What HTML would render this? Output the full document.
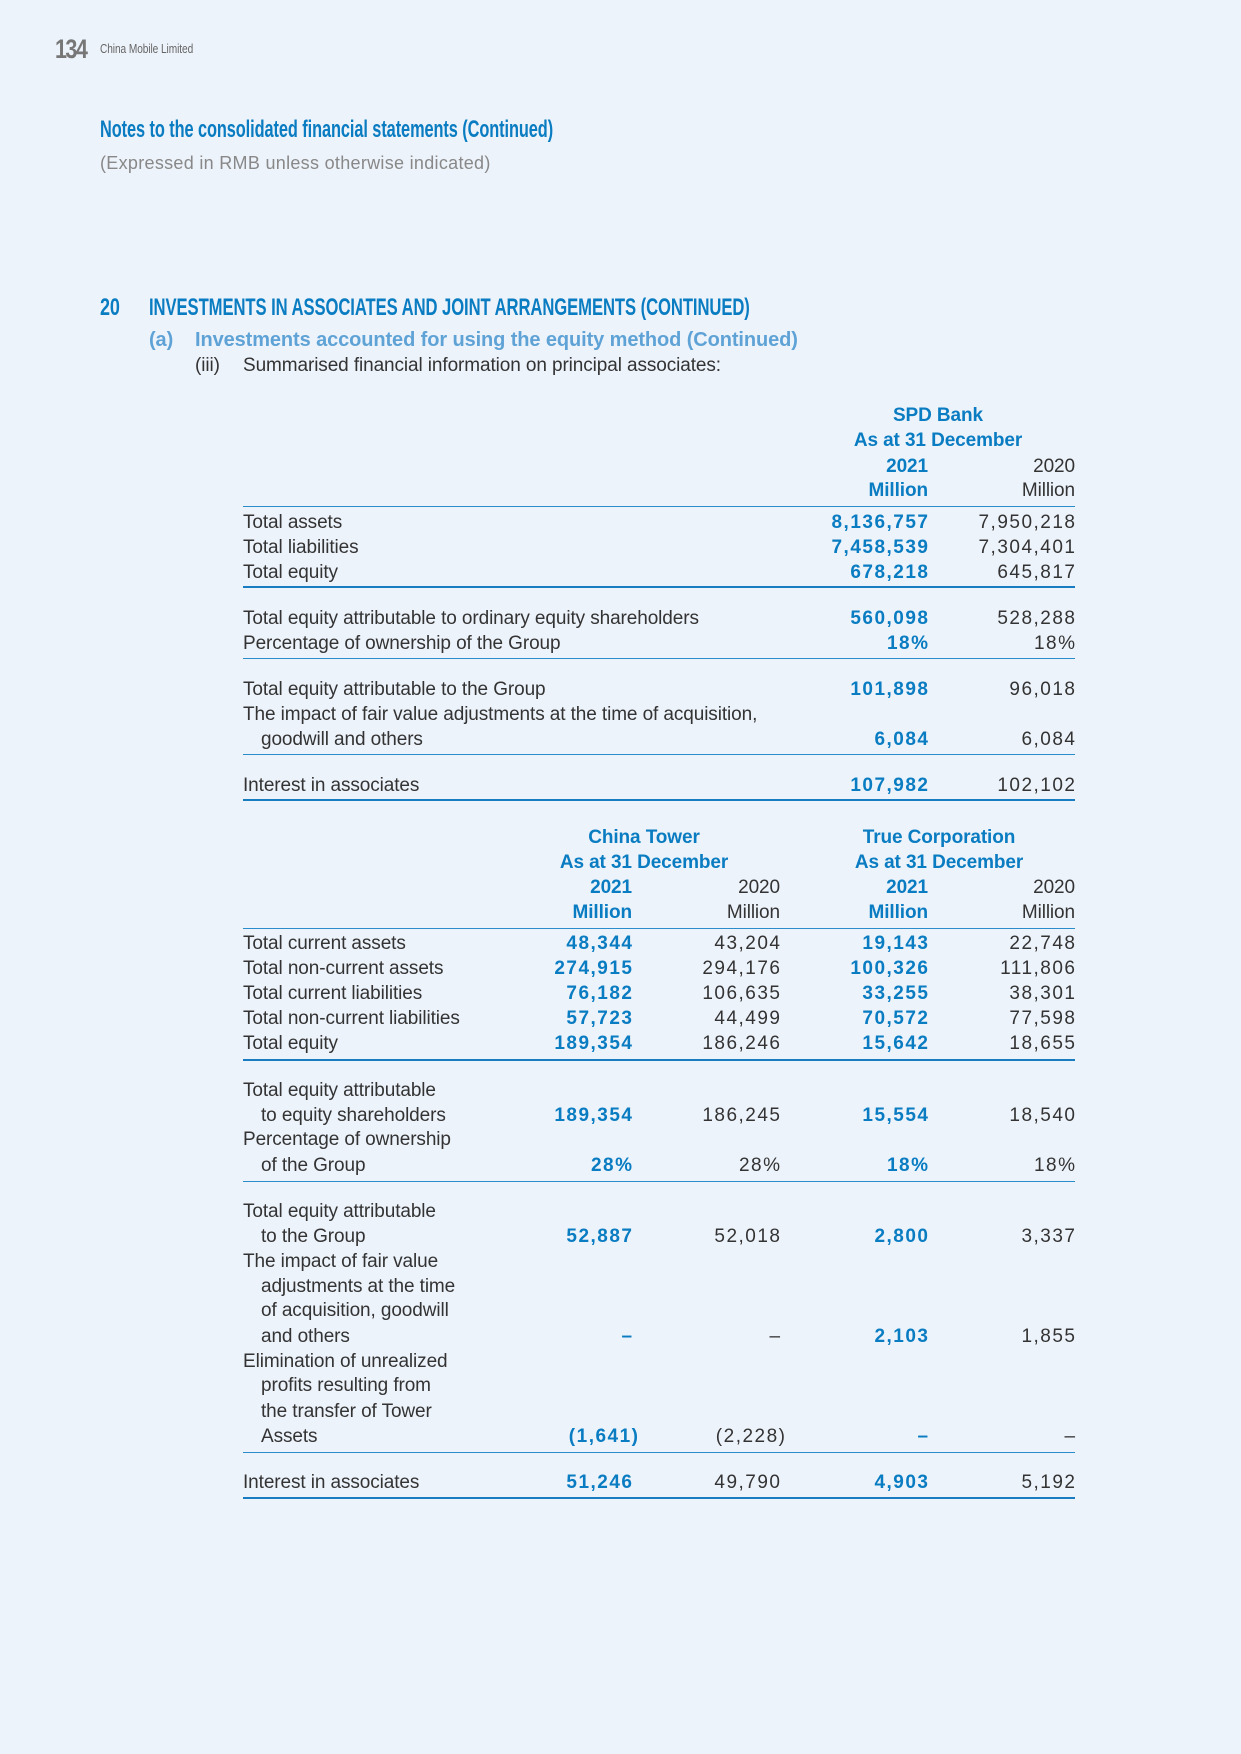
<!DOCTYPE html>
<html><head><meta charset="utf-8"><style>
body{margin:0;background:#edf3fb;}
#p{position:relative;width:1241px;height:1754px;background:#edf3fb;overflow:hidden;font-family:"Liberation Sans",sans-serif;color:#333;}
.t{position:absolute;white-space:nowrap;font-size:19px;line-height:22px;letter-spacing:-0.1px;}
.b{color:#0a7cc1;font-weight:bold;}
.r{text-align:right;}
.c{text-align:center;}
.v{letter-spacing:1.5px;margin-right:-1.5px;}
.sx{transform-origin:0 0;}
.l{position:absolute;left:243px;width:832px;background:#2a8ccb;height:1px;}
.k{height:2px;background:#1a7cc0;}
</style></head><body><div id="p">
<div class="t sx" style="left:55px;top:36px;font-size:27px;line-height:27px;font-weight:bold;color:#777;letter-spacing:-2px;transform:scaleX(0.8)">134</div>
<div class="t sx" style="left:100px;top:42px;font-size:13px;line-height:14px;color:#666;transform:scaleX(0.78)">China Mobile Limited</div>
<div class="t sx" style="left:100px;top:116px;font-size:24px;line-height:28px;font-weight:bold;color:#0a7cc1;transform:scaleX(0.68)">Notes to the consolidated financial statements (Continued)</div>
<div class="t" style="left:100px;top:152px;font-size:18px;color:#888;letter-spacing:0.3px">(Expressed in RMB unless otherwise indicated)</div>
<div class="t sx" style="left:100px;top:294px;font-size:24px;line-height:28px;font-weight:bold;color:#0a7cc1;transform:scaleX(0.75)">20</div>
<div class="t sx" style="left:149px;top:294px;font-size:24px;line-height:28px;font-weight:bold;color:#0a7cc1;transform:scaleX(0.693)">INVESTMENTS IN ASSOCIATES AND JOINT ARRANGEMENTS (CONTINUED)</div>
<div class="t" style="left:149px;top:329px;font-size:20px;line-height:22px;font-weight:bold;color:#5fa3d6;">(a)</div>
<div class="t" style="left:195px;top:329px;font-size:20px;line-height:22px;font-weight:bold;color:#5fa3d6;">Investments accounted for using the equity method (Continued)</div>
<div class="t" style="left:195px;top:355px;">(iii)</div>
<div class="t" style="left:243px;top:355px;">Summarised financial information on principal associates:</div>

<!-- SPD -->
<div class="t b c" style="left:838px;width:200px;top:405px">SPD Bank</div>
<div class="t b c" style="left:838px;width:200px;top:430px">As at 31 December</div>
<div class="t b r" style="right:313px;top:456px">2021</div>
<div class="t r" style="right:166px;top:456px">2020</div>
<div class="t b r" style="right:313px;top:480px">Million</div>
<div class="t r" style="right:166px;top:480px">Million</div>
<div class="l" style="top:506px"></div>

<div class="t" style="left:243px;top:512px">Total assets</div><div class="t b r v" style="right:313px;top:512px">8,136,757</div><div class="t r v" style="right:166px;top:512px">7,950,218</div>
<div class="t" style="left:243px;top:537px">Total liabilities</div><div class="t b r v" style="right:313px;top:537px">7,458,539</div><div class="t r v" style="right:166px;top:537px">7,304,401</div>
<div class="t" style="left:243px;top:562px">Total equity</div><div class="t b r v" style="right:313px;top:562px">678,218</div><div class="t r v" style="right:166px;top:562px">645,817</div>
<div class="l k" style="top:586px"></div>
<div class="t" style="left:243px;top:608px">Total equity attributable to ordinary equity shareholders</div><div class="t b r v" style="right:313px;top:608px">560,098</div><div class="t r v" style="right:166px;top:608px">528,288</div>
<div class="t" style="left:243px;top:633px">Percentage of ownership of the Group</div><div class="t b r v" style="right:313px;top:633px">18%</div><div class="t r v" style="right:166px;top:633px">18%</div>
<div class="l" style="top:658px"></div>
<div class="t" style="left:243px;top:679px">Total equity attributable to the Group</div><div class="t b r v" style="right:313px;top:679px">101,898</div><div class="t r v" style="right:166px;top:679px">96,018</div>
<div class="t" style="left:243px;top:704px">The impact of fair value adjustments at the time of acquisition,</div>
<div class="t" style="left:261px;top:729px">goodwill and others</div><div class="t b r v" style="right:313px;top:729px">6,084</div><div class="t r v" style="right:166px;top:729px">6,084</div>
<div class="l" style="top:754px"></div>
<div class="t" style="left:243px;top:775px">Interest in associates</div><div class="t b r v" style="right:313px;top:775px">107,982</div><div class="t r v" style="right:166px;top:775px">102,102</div>
<div class="l k" style="top:799px"></div>

<!-- Second table -->
<div class="t b c" style="left:544px;width:200px;top:827px">China Tower</div>
<div class="t b c" style="left:544px;width:200px;top:852px">As at 31 December</div>
<div class="t b c" style="left:839px;width:200px;top:827px">True Corporation</div>
<div class="t b c" style="left:839px;width:200px;top:852px">As at 31 December</div>
<div class="t b r" style="right:609px;top:877px">2021</div><div class="t r" style="right:461px;top:877px">2020</div><div class="t b r" style="right:313px;top:877px">2021</div><div class="t r" style="right:166px;top:877px">2020</div>
<div class="t b r" style="right:609px;top:902px">Million</div><div class="t r" style="right:461px;top:902px">Million</div><div class="t b r" style="right:313px;top:902px">Million</div><div class="t r" style="right:166px;top:902px">Million</div>
<div class="l" style="top:928px"></div>

<div class="t" style="left:243px;top:933px">Total current assets</div><div class="t b r v" style="right:609px;top:933px">48,344</div><div class="t r v" style="right:461px;top:933px">43,204</div><div class="t b r v" style="right:313px;top:933px">19,143</div><div class="t r v" style="right:166px;top:933px">22,748</div>
<div class="t" style="left:243px;top:958px">Total non-current assets</div><div class="t b r v" style="right:609px;top:958px">274,915</div><div class="t r v" style="right:461px;top:958px">294,176</div><div class="t b r v" style="right:313px;top:958px">100,326</div><div class="t r v" style="right:166px;top:958px">111,806</div>
<div class="t" style="left:243px;top:983px">Total current liabilities</div><div class="t b r v" style="right:609px;top:983px">76,182</div><div class="t r v" style="right:461px;top:983px">106,635</div><div class="t b r v" style="right:313px;top:983px">33,255</div><div class="t r v" style="right:166px;top:983px">38,301</div>
<div class="t" style="left:243px;top:1008px">Total non-current liabilities</div><div class="t b r v" style="right:609px;top:1008px">57,723</div><div class="t r v" style="right:461px;top:1008px">44,499</div><div class="t b r v" style="right:313px;top:1008px">70,572</div><div class="t r v" style="right:166px;top:1008px">77,598</div>
<div class="t" style="left:243px;top:1033px">Total equity</div><div class="t b r v" style="right:609px;top:1033px">189,354</div><div class="t r v" style="right:461px;top:1033px">186,246</div><div class="t b r v" style="right:313px;top:1033px">15,642</div><div class="t r v" style="right:166px;top:1033px">18,655</div>
<div class="l k" style="top:1059px"></div>

<div class="t" style="left:243px;top:1080px">Total equity attributable</div>
<div class="t" style="left:261px;top:1105px">to equity shareholders</div><div class="t b r v" style="right:609px;top:1105px">189,354</div><div class="t r v" style="right:461px;top:1105px">186,245</div><div class="t b r v" style="right:313px;top:1105px">15,554</div><div class="t r v" style="right:166px;top:1105px">18,540</div>
<div class="t" style="left:243px;top:1129px">Percentage of ownership</div>
<div class="t" style="left:261px;top:1155px">of the Group</div><div class="t b r v" style="right:609px;top:1155px">28%</div><div class="t r v" style="right:461px;top:1155px">28%</div><div class="t b r v" style="right:313px;top:1155px">18%</div><div class="t r v" style="right:166px;top:1155px">18%</div>
<div class="l" style="top:1181px"></div>

<div class="t" style="left:243px;top:1201px">Total equity attributable</div>
<div class="t" style="left:261px;top:1226px">to the Group</div><div class="t b r v" style="right:609px;top:1226px">52,887</div><div class="t r v" style="right:461px;top:1226px">52,018</div><div class="t b r v" style="right:313px;top:1226px">2,800</div><div class="t r v" style="right:166px;top:1226px">3,337</div>
<div class="t" style="left:243px;top:1251px">The impact of fair value</div>
<div class="t" style="left:261px;top:1276px">adjustments at the time</div>
<div class="t" style="left:261px;top:1300px">of acquisition, goodwill</div>
<div class="t" style="left:261px;top:1326px">and others</div><div class="t b r" style="right:609px;top:1326px">–</div><div class="t r" style="right:461px;top:1326px">–</div><div class="t b r v" style="right:313px;top:1326px">2,103</div><div class="t r v" style="right:166px;top:1326px">1,855</div>
<div class="t" style="left:243px;top:1351px">Elimination of unrealized</div>
<div class="t" style="left:261px;top:1375px">profits resulting from</div>
<div class="t" style="left:261px;top:1401px">the transfer of Tower</div>
<div class="t" style="left:261px;top:1426px">Assets</div><div class="t b r v" style="right:603px;top:1426px">(1,641)</div><div class="t r v" style="right:456px;top:1426px">(2,228)</div><div class="t b r" style="right:313px;top:1426px">–</div><div class="t r" style="right:166px;top:1426px">–</div>
<div class="l" style="top:1452px"></div>
<div class="t" style="left:243px;top:1472px">Interest in associates</div><div class="t b r v" style="right:609px;top:1472px">51,246</div><div class="t r v" style="right:461px;top:1472px">49,790</div><div class="t b r v" style="right:313px;top:1472px">4,903</div><div class="t r v" style="right:166px;top:1472px">5,192</div>
<div class="l k" style="top:1497px"></div>
</div></body></html>
